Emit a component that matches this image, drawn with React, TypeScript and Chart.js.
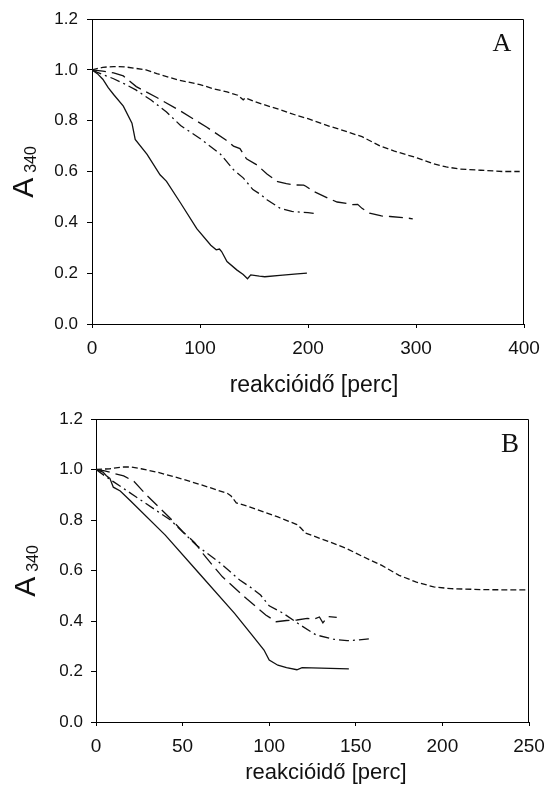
import React, { useEffect, useRef } from "react";
import { Chart, registerables } from "chart.js";
Chart.register(...registerables);

// ---------- Panel A data (time in perc, absorbance A340) ----------
const aShortT = [0, 10, 20, 30, 40, 50, 60, 80, 100, 112, 125, 135, 140, 142, 150, 160, 175, 190, 200, 220, 230, 250, 267, 280, 300, 315, 328, 340, 360, 380, 396];
const aShortA = [1.0, 1.01, 1.013, 1.012, 1.006, 1.0, 0.985, 0.96, 0.942, 0.926, 0.913, 0.9, 0.882, 0.89, 0.876, 0.862, 0.842, 0.82, 0.808, 0.778, 0.765, 0.737, 0.7, 0.68, 0.655, 0.632, 0.618, 0.61, 0.605, 0.6, 0.6];
const aLongT = [0, 10, 20, 29, 41, 60, 82, 106, 124, 131, 137, 143, 153, 162, 172, 180, 188, 196, 198, 205, 220, 227, 236, 241, 246, 250, 257, 268, 276, 290, 297];
const aLongA = [1.0, 0.995, 0.988, 0.976, 0.934, 0.891, 0.838, 0.775, 0.724, 0.7, 0.69, 0.65, 0.625, 0.59, 0.56, 0.552, 0.547, 0.546, 0.542, 0.522, 0.492, 0.48, 0.474, 0.47, 0.471, 0.455, 0.436, 0.425, 0.423, 0.418, 0.414];
const aDashDotT = [0, 5, 11, 20, 30, 41, 55, 69, 82, 100, 119, 131, 140, 149, 156, 162, 174, 185, 193, 200, 208];
const aDashDotA = [1.0, 0.99, 0.98, 0.965, 0.945, 0.92, 0.88, 0.834, 0.781, 0.73, 0.668, 0.607, 0.575, 0.529, 0.51, 0.489, 0.456, 0.443, 0.44, 0.438, 0.434];
const aSolidT = [0, 5, 10, 15, 20, 29, 37, 40, 51, 63, 69, 82, 97, 110, 115, 118, 120, 125, 134, 140, 144, 147, 155, 160, 174, 190, 199];
const aSolidA = [1.0, 0.985, 0.963, 0.93, 0.903, 0.857, 0.79, 0.726, 0.667, 0.587, 0.561, 0.476, 0.375, 0.31, 0.292, 0.295, 0.285, 0.246, 0.213, 0.195, 0.178, 0.193, 0.188, 0.186, 0.191, 0.197, 0.2];

// ---------- Panel B data ----------
const bShortT = [0, 8, 16, 20, 26, 35, 50, 65, 76, 78, 81, 89, 105, 116, 118, 121, 135, 145, 158, 165, 175, 185, 195, 205, 225, 250];
const bShortA = [1.0, 1.003, 1.01, 1.01, 1.003, 0.99, 0.962, 0.93, 0.905, 0.895, 0.868, 0.851, 0.812, 0.782, 0.77, 0.748, 0.713, 0.686, 0.642, 0.62, 0.581, 0.554, 0.535, 0.528, 0.524, 0.523];
const bLongT = [0, 5, 10, 16, 22, 29, 43, 50, 57, 62, 68, 73, 87, 98, 104, 110, 116, 122, 126, 129, 131, 134, 139];
const bLongA = [1.0, 0.995, 0.985, 0.975, 0.952, 0.9, 0.806, 0.755, 0.71, 0.665, 0.615, 0.575, 0.488, 0.424, 0.397, 0.402, 0.404, 0.41, 0.408, 0.416, 0.393, 0.418, 0.414];
const bDashDotT = [0, 5, 10, 23, 43, 58, 72, 83, 90, 95, 100, 108, 118, 127, 137, 145, 152, 158];
const bDashDotA = [1.0, 0.975, 0.952, 0.892, 0.8, 0.7, 0.628, 0.562, 0.53, 0.503, 0.46, 0.431, 0.384, 0.345, 0.328, 0.322, 0.325, 0.33];
const bSolidT = [0, 4, 6, 8, 10, 14, 20, 40, 60, 80, 90, 97, 100, 105, 110, 116, 119, 130, 146];
const bSolidA = [1.0, 0.99, 0.975, 0.965, 0.93, 0.915, 0.875, 0.74, 0.585, 0.43, 0.345, 0.285, 0.245, 0.225, 0.215, 0.207, 0.215, 0.213, 0.21];

// ---------- Axis / text ----------
const xTitle = "reakcióidő [perc]";
const yTitleMain = "A";
const yTitleSub = "340";
const yMax = 1.2;
const yStep = 0.2;
const aXMax = 400;
const aXStep = 100;
const bXMax = 250;
const bXStep = 50;

const SANS = "'Liberation Sans', Arial, sans-serif";
const SERIF = "'Liberation Serif', 'Times New Roman', serif";

const pts = (t: number[], a: number[]) => t.map((x, i) => ({ x, y: a[i] }));

function ds(data: { x: number; y: number }[], dash: number[]) {
  return {
    data,
    borderColor: "#111",
    borderWidth: 1.3,
    borderDash: dash,
    pointRadius: 0,
    tension: 0,
    fill: false,
  };
}

const extrasPlugin = {
  id: "extras",
  afterDraw(chart: any) {
    const o = chart.options.plugins.extras;
    const { ctx, chartArea: ca } = chart;
    ctx.save();
    // top and right frame lines
    ctx.strokeStyle = "#000";
    ctx.lineWidth = 1;
    ctx.beginPath();
    const t = Math.round(ca.top) + 0.5;
    const r = Math.round(ca.right) - 0.5;
    ctx.moveTo(ca.left, t);
    ctx.lineTo(r, t);
    ctx.lineTo(r, ca.bottom);
    ctx.stroke();

    ctx.fillStyle = "#111";
    // x title
    ctx.font = `${o.xTitleSize}px ${SANS}`;
    ctx.textAlign = "center";
    ctx.textBaseline = "alphabetic";
    ctx.fillText(xTitle, o.xTitleX, o.xTitleY);

    // y title with subscript, rotated
    ctx.save();
    ctx.translate(o.yTitleX, o.yTitleY);
    ctx.rotate(-Math.PI / 2);
    ctx.font = `${o.yMainSize}px ${SANS}`;
    const wA = ctx.measureText(yTitleMain).width;
    ctx.font = `${o.ySubSize}px ${SANS}`;
    const wS = ctx.measureText(yTitleSub).width;
    const gap = 5;
    const total = wA + gap + wS;
    ctx.textAlign = "left";
    ctx.font = `${o.yMainSize}px ${SANS}`;
    ctx.fillText(yTitleMain, -total / 2, 0);
    ctx.font = `${o.ySubSize}px ${SANS}`;
    ctx.fillText(yTitleSub, -total / 2 + wA + gap, 3);
    ctx.restore();

    // panel letter
    ctx.font = `${o.letterSize}px ${SERIF}`;
    ctx.textAlign = "center";
    ctx.textBaseline = "alphabetic";
    ctx.fillText(o.letter, o.letterX, o.letterY);
    ctx.restore();
  },
};

type PanelCfg = {
  height: number;
  left: number;
  right: number;
  top: number;
  bottom: number;
  xMax: number;
  xStep: number;
  yPad: number;
  xPad: number;
  datasets: any[];
  extras: any;
};

function buildConfig(c: PanelCfg): any {
  return {
    type: "line",
    data: { datasets: c.datasets },
    plugins: [extrasPlugin],
    options: {
      responsive: false,
      animation: false,
      devicePixelRatio: 1,
      layout: { padding: { left: 0, right: 544 - c.right, top: c.top, bottom: 0 } },
      plugins: {
        legend: { display: false },
        tooltip: { enabled: false },
        extras: c.extras,
      },
      scales: {
        x: {
          type: "linear",
          min: 0,
          max: c.xMax,
          border: { display: true, color: "#000", width: 1 },
          grid: { display: true, drawOnChartArea: false, drawTicks: true, tickLength: 4, tickColor: "#000" },
          ticks: {
            stepSize: c.xStep,
            color: "#111",
            padding: c.xPad,
            maxRotation: 0,
            font: { family: SANS, size: 19 },
          },
          afterFit(scale: any) {
            scale.height = c.height - c.bottom;
            scale.paddingLeft = 0;
            scale.paddingRight = 0;
          },
        },
        y: {
          type: "linear",
          min: 0,
          max: yMax,
          border: { display: true, color: "#000", width: 1 },
          grid: { display: true, drawOnChartArea: false, drawTicks: true, tickLength: 5, tickColor: "#000" },
          ticks: {
            stepSize: yStep,
            color: "#111",
            padding: c.yPad,
            font: { family: SANS, size: 17 },
            callback: (v: any) => Number(v).toFixed(1),
          },
          afterFit(scale: any) {
            scale.width = c.left;
            scale.paddingTop = 0;
            scale.paddingBottom = 0;
          },
        },
      },
    },
  };
}

const panelA: PanelCfg = {
  height: 400,
  left: 92,
  right: 524,
  top: 19,
  bottom: 324,
  xMax: aXMax,
  xStep: aXStep,
  yPad: 9,
  xPad: 9,
  datasets: [
    ds(pts(aShortT, aShortA), [6, 3]),
    ds(pts(aLongT, aLongA), [14, 6]),
    ds(pts(aDashDotT, aDashDotA), [10, 4, 2, 4]),
    ds(pts(aSolidT, aSolidA), []),
  ],
  extras: {
    xTitleSize: 23, xTitleX: 314, xTitleY: 392,
    yTitleX: 33, yTitleY: 172, yMainSize: 30, ySubSize: 16,
    letter: "A", letterSize: 26, letterX: 502, letterY: 51,
  },
};

const panelB: PanelCfg = {
  height: 391,
  left: 96,
  right: 529,
  top: 19,
  bottom: 322,
  xMax: bXMax,
  xStep: bXStep,
  yPad: 8,
  xPad: 9,
  datasets: [
    ds(pts(bShortT, bShortA), [6, 3]),
    ds(pts(bLongT, bLongA), [14, 6]),
    ds(pts(bDashDotT, bDashDotA), [10, 4, 2, 4]),
    ds(pts(bSolidT, bSolidA), []),
  ],
  extras: {
    xTitleSize: 22, xTitleX: 326, xTitleY: 379,
    yTitleX: 35, yTitleY: 171, yMainSize: 30, ySubSize: 16,
    letter: "B", letterSize: 27, letterX: 510, letterY: 52,
  },
};

function Panel({ cfg, top }: { cfg: PanelCfg; top: number }) {
  const ref = useRef<HTMLCanvasElement>(null);
  useEffect(() => {
    const chart = new Chart(ref.current as HTMLCanvasElement, buildConfig(cfg));
    return () => chart.destroy();
  }, []);
  return (
    <canvas
      ref={ref}
      width={544}
      height={cfg.height}
      style={{ position: "absolute", left: 0, top, width: 544, height: cfg.height, display: "block" }}
    />
  );
}

export default function App() {
  return (
    <div style={{ position: "absolute", left: 0, top: 0, width: 544, height: 791, background: "#fff" }}>
      <Panel cfg={panelA} top={0} />
      <Panel cfg={panelB} top={400} />
    </div>
  );
}
